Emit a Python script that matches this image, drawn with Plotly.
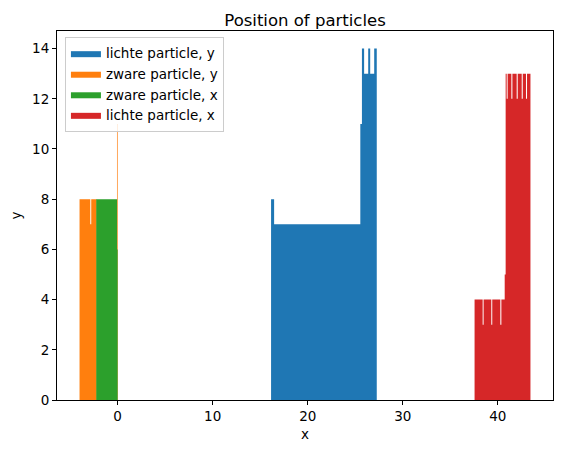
import numpy as np
import plotly.graph_objects as go

# histogram runs: bin edges and counts per series
lichte_y_edges = [16.14, 16.46, 25.53, 25.70, 25.93, 26.36, 26.57, 26.99, 27.26]
lichte_y_counts = [8, 7, 11, 14, 13, 14, 13, 14]

zware_y_edges = [-4.01, -2.88, -2.78, -2.20, -0.07, 0.0]
zware_y_counts = [8, 7, 8, 0, 11]

zware_x_edges = [-2.25, -0.06, 0.0]
zware_x_counts = [8, 6]

lichte_x_edges = [37.55, 38.40, 38.50, 39.31, 39.41, 40.26, 40.37, 40.72, 40.82, 40.93,
                  41.03, 41.42, 41.53, 41.98, 42.09, 42.51, 42.62, 42.96, 43.07, 43.43]
lichte_x_counts = [4, 3, 4, 3, 4, 3, 4, 5, 13, 12, 13, 12, 13, 12, 13, 12, 13, 12, 13]

x_ticks = [0, 10, 20, 30, 40]
y_ticks = [0, 2, 4, 6, 8, 10, 12, 14]

series = [
    ("lichte particle, y", lichte_y_edges, lichte_y_counts, "#1f77b4"),
    ("zware particle, y", zware_y_edges, zware_y_counts, "#ff7f0e"),
    ("zware particle, x", zware_x_edges, zware_x_counts, "#2ca02c"),
    ("lichte particle, x", lichte_x_edges, lichte_x_counts, "#d62728"),
]

fig = go.Figure()
for name, edges, counts, color in series:
    # stepped outline filled down to zero, like a matplotlib bar histogram without seams
    fig.add_trace(go.Scatter(
        x=list(edges),
        y=list(counts) + [counts[-1]],
        mode="lines",
        line=dict(shape="hv", width=0, color=color),
        fill="tozeroy",
        fillcolor=color,
        name=name,
    ))

# matplotlib-like 5% margin on x, y starts at zero
all_edges = np.concatenate([np.array(s[1]) for s in series])
xmin, xmax = all_edges.min(), all_edges.max()
pad = 0.05 * (xmax - xmin)
ymax = max(max(s[2]) for s in series) * 1.05

font = "DejaVu Sans"
axis_style = dict(
    showline=True, mirror=True, linecolor="black", linewidth=1,
    ticks="outside", ticklen=4, tickcolor="black",
    showgrid=False, zeroline=False, automargin=False,
    tickfont=dict(family=font, size=13.5, color="black"),
)

fig.update_xaxes(range=[xmin - pad, xmax + pad], tickvals=x_ticks,
                 title=dict(text="x", font=dict(family=font, size=13.5, color="black"), standoff=6),
                 **axis_style)
fig.update_yaxes(range=[0, ymax], tickvals=y_ticks,
                 title=dict(text="y", font=dict(family=font, size=13.5, color="black"), standoff=8),
                 **axis_style)

# the page body adds an 8px margin, so the figure is 8px smaller on each side
fig.update_layout(
    width=555, height=445,
    plot_bgcolor="white", paper_bgcolor="white",
    margin=dict(l=49, r=10, t=23, b=53),
    title=dict(text="Position of particles", x=0.5, xref="paper", xanchor="center",
               y=1, yref="paper", yanchor="bottom", pad=dict(b=5),
               font=dict(family=font, size=16.5, color="black")),
    legend=dict(x=0.016, y=0.984, xanchor="left", yanchor="top",
                bgcolor="rgba(255,255,255,0.8)", bordercolor="#cccccc", borderwidth=1,
                font=dict(family=font, size=13.5, color="black"), tracegroupgap=0),
    showlegend=True,
)

fig.write_html("out.html")
